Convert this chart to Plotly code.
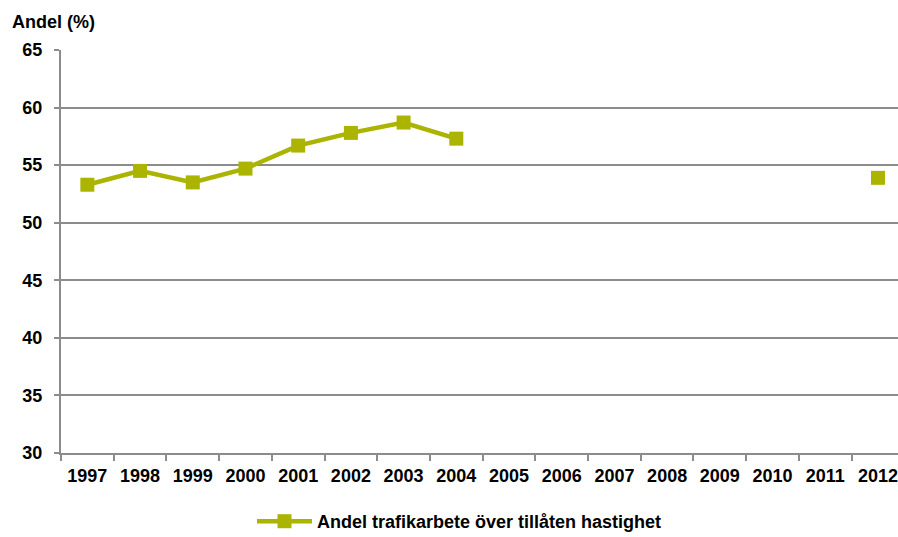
import plotly.graph_objects as go

years = [str(y) for y in range(1997, 2013)]
values = [53.3, 54.5, 53.5, 54.7, 56.7, 57.8, 58.7, 57.3,
          None, None, None, None, None, None, None, 53.9]
series_name = "Andel trafikarbete över tillåten hastighet"
y_title = "Andel (%)"

color = "#ABB400"
font_family = "Liberation Sans, Arial, sans-serif"
fs = 18

fig = go.Figure()
fig.add_trace(go.Scatter(
    x=years, y=values, mode="lines+markers", name=series_name,
    line=dict(color=color, width=4.5),
    marker=dict(symbol="square", size=14, color=color),
    connectgaps=False,
))

fig.update_layout(
    width=898, height=537,
    margin=dict(l=61, r=0, t=50, b=84, autoexpand=False),
    plot_bgcolor="white", paper_bgcolor="white",
    font=dict(family=font_family, size=fs, color="black", weight="bold"),
    title=dict(text=y_title, x=12/898, xanchor="left", xref="container",
               y=1-22/537, yanchor="middle", yref="container",
               font=dict(family=font_family, size=fs, color="black", weight="bold")),
    showlegend=True,
    legend=dict(orientation="h", x=(252-61)/837, xanchor="left",
                y=-0.17, yanchor="middle", itemwidth=55,
                font=dict(family=font_family, size=fs, color="black", weight="bold")),
    xaxis=dict(type="category", range=[-0.5, 15.38], showgrid=False,
               showline=True, linecolor="#8c8c8c", linewidth=2,
               ticks="outside", ticklen=6, tickcolor="#8c8c8c", tickwidth=2,
               tickson="boundaries", automargin=False, ticklabelstandoff=5,
               tickfont=dict(family=font_family, size=fs, color="black", weight="bold")),
    yaxis=dict(range=[30, 65], dtick=5, showgrid=True, gridcolor="#8c8c8c",
               gridwidth=2, showline=True, linecolor="#8c8c8c", linewidth=2,
               ticks="outside", ticklen=5, tickcolor="#8c8c8c", tickwidth=2,
               zeroline=False, ticklabelstandoff=8, automargin=False,
               tickfont=dict(family=font_family, size=fs, color="black", weight="bold")),
)

fig.write_html("out.html")
